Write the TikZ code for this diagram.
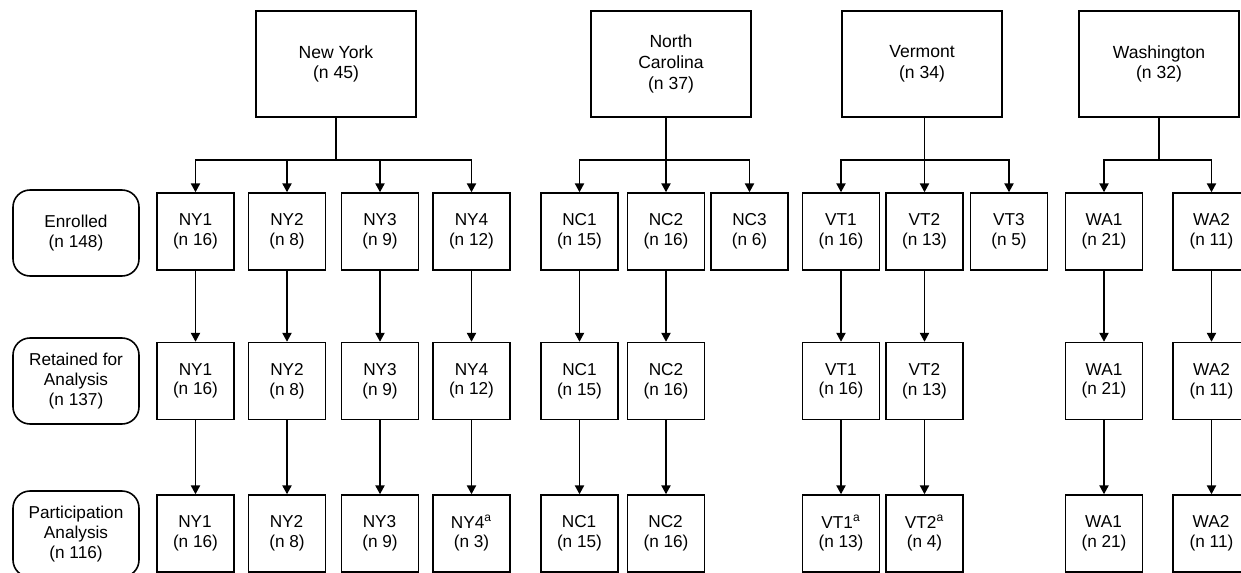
\documentclass[tikz,border=0pt]{standalone}
\usepackage{fontspec}
\setmainfont{Liberation Sans}
\usepackage{tikz}
\usetikzlibrary{positioning,shapes,arrows.meta}

\begin{document}
\begin{tikzpicture}[x=0.02cm,y=-0.02cm]
\tikzstyle{every node}=[draw,line width=0.9pt,align=center,inner sep=0pt,font=\fontsize{9.8}{11.2}\selectfont];
\tikzstyle{site}=[minimum width=3.2cm,minimum height=2.12cm,font=\fontsize{10}{11.8}\selectfont];
\tikzstyle{grp}=[minimum width=1.54cm,minimum height=1.54cm];
\tikzstyle{lbl}=[rounded corners=0.34cm,minimum width=2.52cm,minimum height=1.72cm];
\tikzstyle{arr}=[line width=0.85pt,-{Triangle[width=5.3pt,length=5.1pt]}];

\useasboundingbox (0,0) rectangle (1241,572);
\clip (0,0) rectangle (1241,572);

% states
\draw node[site] (ny) at (336,64) {New York\\(n 45)};
\draw node[site] (nc) at (671,64) {North\\Carolina\\(n 37)};
\draw node[site] (vt) at (922,64) {Vermont\\(n 34)};
\draw node[site] (wa) at (1159,64) {Washington\\(n 32)};

% row labels
\draw node[lbl] (enr) at (76,233) {Enrolled\\(n 148)};
\draw node[lbl] (ret) at (76,381) {Retained for\\Analysis\\(n 137)};
\draw node[lbl] (par) at (76,534) {Participation\\Analysis\\(n 116)};

% sites per row
\foreach \id/\x/\n in {NY1/195.5/16,NY2/287/8,NY3/380/9,NY4/471.5/12,NC1/579.5/15,NC2/666/16,NC3/749.5/6,VT1/841/16,VT2/924.5/13,VT3/1009/5,WA1/1104/21,WA2/1211.5/11}
  \draw node[grp] (e\id) at (\x,231.5) {\id\\(n \n)};
\foreach \id/\x/\n in {NY1/195.5/16,NY2/287/8,NY3/380/9,NY4/471.5/12,NC1/579.5/15,NC2/666/16,VT1/841/16,VT2/924.5/13,WA1/1104/21,WA2/1211.5/11}
  \draw node[grp] (r\id) at (\x,381) {\id\\(n \n)};
\foreach \id/\x/\n/\s in {NY1/195.5/16/,NY2/287/8/,NY3/380/9/,NY4/471.5/3/a,NC1/579.5/15/,NC2/666/16/,VT1/841/13/a,VT2/924.5/4/a,WA1/1104/21/,WA2/1211.5/11/}
  \draw node[grp] (p\id) at (\x,533.5) {\id\textsuperscript{\s}\\(n \n)};

% branches
\coordinate (nyb) at (336,160);
\coordinate (ncb) at (666,160);
\coordinate (vtb) at (924.5,160);
\coordinate (wab) at (1159,160);
\draw[line width=0.85pt] (ny) -- (nyb);
\draw[line width=0.85pt] (wa) -- (wab);
\draw[arr] (eNC2 |- nc.south) -- (eNC2);
\draw[arr] (eVT2 |- vt.south) -- (eVT2);
\foreach \g in {NY1,NY2,NY3,NY4} \draw[arr] (nyb) -| (e\g);
\foreach \g in {NC1,NC3} \draw[arr] (ncb) -| (e\g);
\foreach \g in {VT1,VT3} \draw[arr] (vtb) -| (e\g);
\foreach \g in {WA1,WA2} \draw[arr] (wab) -| (e\g);

\foreach \g in {NY1,NY2,NY3,NY4,NC1,NC2,VT1,VT2,WA1,WA2}
  \draw[arr] (e\g) -- (r\g);
\foreach \g in {NY1,NY2,NY3,NY4,NC1,NC2,VT1,VT2,WA1,WA2}
  \draw[arr] (r\g) -- (p\g);
\end{tikzpicture}
\end{document}
